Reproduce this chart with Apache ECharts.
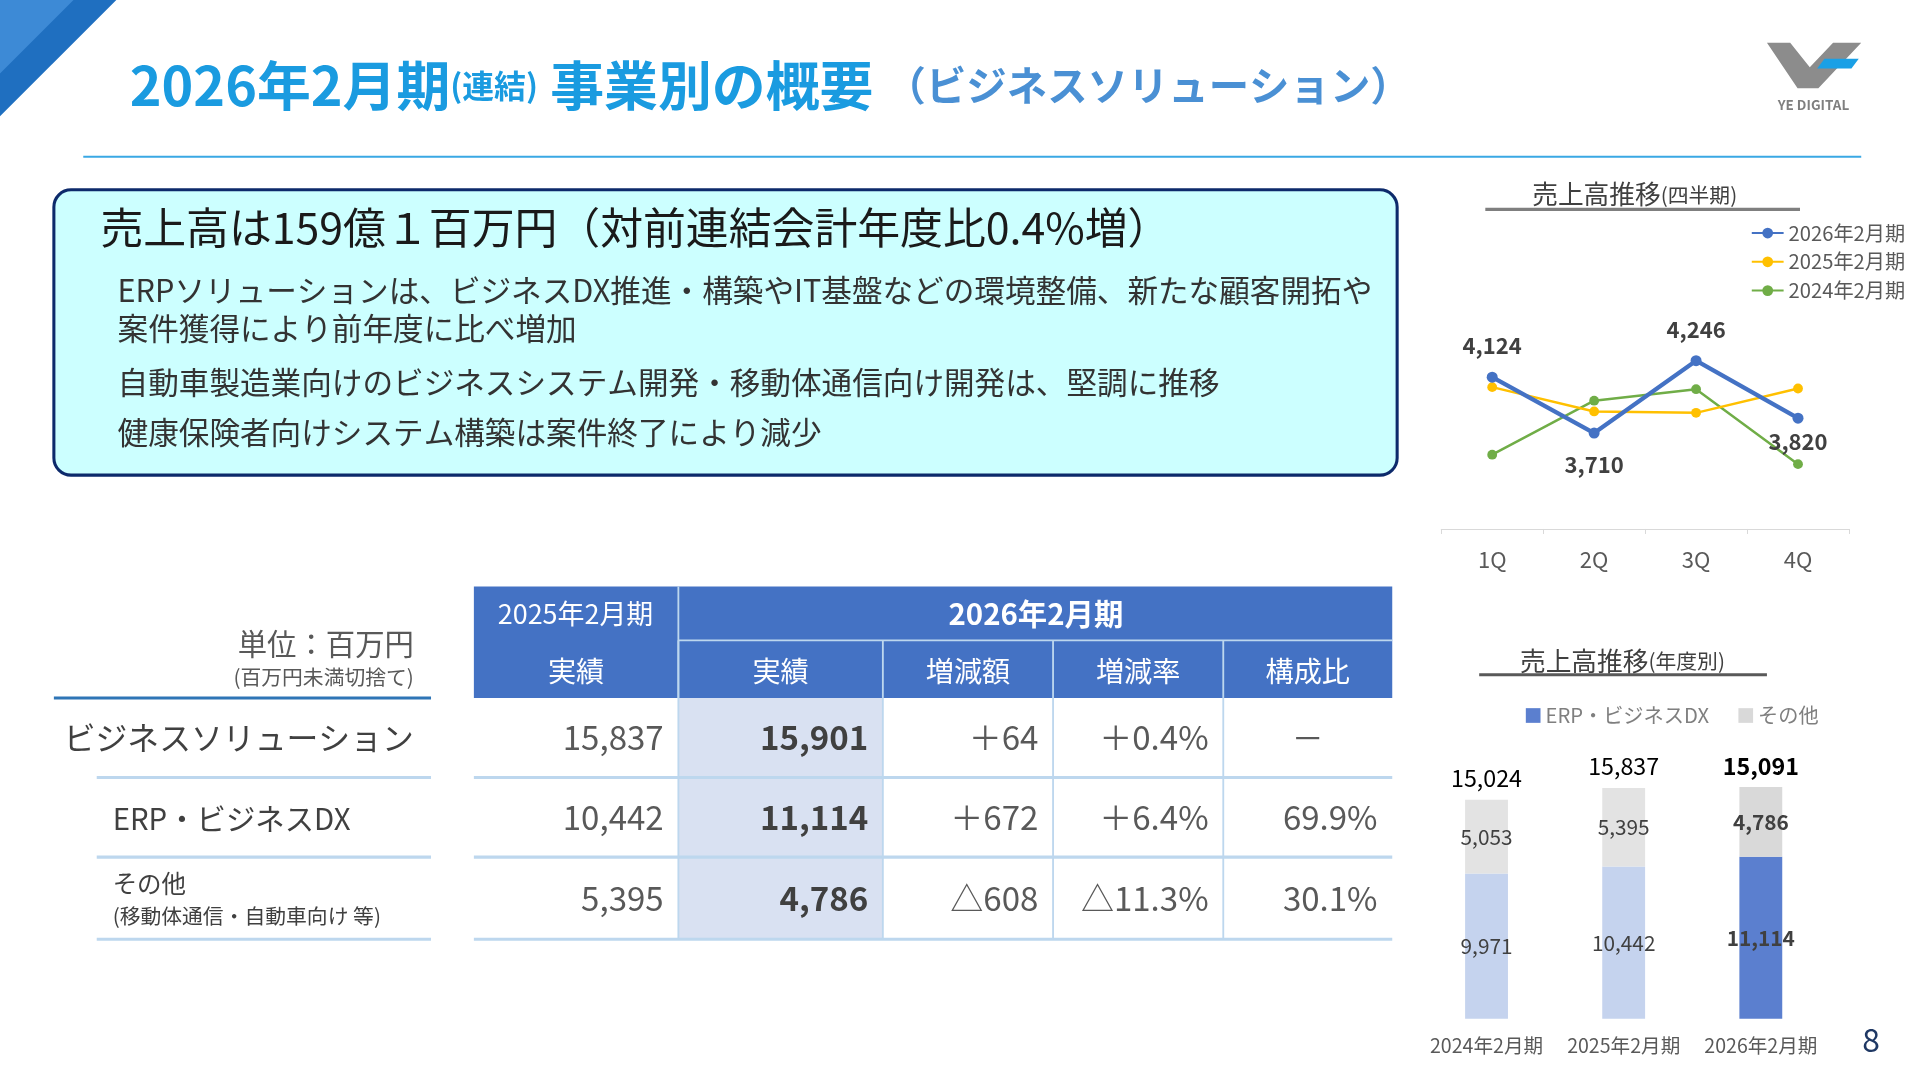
<!DOCTYPE html><html><head><meta charset="utf-8">
<script src="https://cdn.jsdelivr.net/npm/echarts@6/dist/echarts.min.js"></script>
<style>html,body{margin:0;background:#fff}#c{width:1920px;height:1080px}</style></head><body><div id="c"></div>
<script>
const quarters=['1Q','2Q','3Q','4Q'];
const q2026=[4124,3710,4246,3820];
const q2025=[4050,3870,3860,4040];
const q2024=[3550,3950,4035,3480];
const years=['2024年2月期','2025年2月期','2026年2月期'];
const erp=[9971,10442,11114];
const other=[5053,5395,4786];
const totals=[15024,15837,15091];
const tblHead=['実績','実績','増減額','増減率','構成比'];
const tblRows=[
 ['ビジネスソリューション','15,837','15,901','＋64','＋0.4%','－'],
 ['ERP・ビジネスDX','10,442','11,114','＋672','＋6.4%','69.9%'],
 ['その他','5,395','4,786','△608','△11.3%','30.1%']];
const S=1920/1568, F='"Noto Sans CJK JP","Noto Sans",sans-serif';
const p=v=>v*S;
const g=[];
function T(x,y,text,size,color,opt={}){g.push({type:'text',x:p(x),y:p(y),style:Object.assign({text,fill:color||'#404040',font:`${opt.w||'normal'} ${p(size)}px ${F}`,textAlign:opt.a||'left',textVerticalAlign:'middle'},opt.s||{}),z:10});}
function R(x,y,w,h,fill,opt={}){g.push({type:'rect',shape:{x:p(x),y:p(y),width:p(w),height:p(h),r:opt.r?p(opt.r):0},style:{fill,stroke:opt.st||null,lineWidth:opt.lw||0},z:opt.z||5});}
function L(x1,y1,x2,y2,c,w){g.push({type:'line',shape:{x1:p(x1),y1:p(y1),x2:p(x2),y2:p(y2)},style:{stroke:c,lineWidth:p(w)},z:8});}
g.push({type:'polygon',shape:{points:[[0,0],[p(95),0],[0,p(95)]]},style:{fill:'#1f6fc0'},z:5});
g.push({type:'polygon',shape:{points:[[0,0],[p(60),0],[0,p(60)]]},style:{fill:'#3d8ad6'},z:6});
g.push({type:'polygon',shape:{points:[[p(1443),p(35)],[p(1462),p(35)],[p(1478),p(55)],[p(1497),p(35)],[p(1520),p(35)],[p(1485),p(72)],[p(1468),p(72)]]},style:{fill:'#8c8c8c'},z:6});
g.push({type:'polygon',shape:{points:[[p(1490),p(48)],[p(1518),p(48)],[p(1512),p(56)],[p(1484),p(56)]]},style:{fill:'#1aa0e6'},z:7});
T(1481,86,'YE DIGITAL',11,'#7f7f7f',{a:'center',w:'bold'});
g.push({type:'text',x:p(106),y:p(70),style:{text:'{a|2026年2月期}{b|(連結)}{a| 事業別の概要 }{c|（ビジネスソリューション）}',textVerticalAlign:'middle',rich:{a:{fontSize:p(44),fontWeight:'bold',fill:'#1a9be0',fontFamily:F},b:{fontSize:p(26),fontWeight:'bold',fill:'#1a9be0',fontFamily:F},c:{fontSize:p(33),fontWeight:'bold',fill:'#4a90d4',fontFamily:F}}},z:10});
L(68,128,1520,128,'#3aa8e4',1.5);
R(44,155,1097,233,'#ccffff',{r:14,st:'#0d2a6b',lw:p(2.5)});
T(82,186,'売上高は159億１百万円（対前連結会計年度比0.4%増）',35,'#1a1a1a');
T(96,237,'ERPソリューションは、ビジネスDX推進・構築やIT基盤などの環境整備、新たな顧客開拓や',25,'#333');
T(96,268,'案件獲得により前年度に比べ増加',25,'#333');
T(96,312,'自動車製造業向けのビジネスシステム開発・移動体通信向け開発は、堅調に推移',25,'#333');
T(96,353,'健康保険者向けシステム構築は案件終了により減少',25,'#333');
const cx=[387,554,721,860,999,1137];
R(387,479,750,91,'#4472c4');
T(470,501,'2025年2月期',22,'#fff',{a:'center'});
T(846,501,'2026年2月期',24,'#fff',{a:'center',w:'bold'});
L(554,523,1137,523,'#bdd7ee',1.5);
for(let i=0;i<5;i++){T((cx[i]+cx[i+1])/2,548,tblHead[i],23,'#fff',{a:'center'}); if(i>0)L(cx[i],523,cx[i],570,'#bdd7ee',1.5);}
L(554,479,554,570,'#bdd7ee',1.5);
R(554,570,167,197,'#d9e1f2',{z:4});
const ry=[570,635,700,767];
for(let r=0;r<3;r++){
 const y=(ry[r]+ry[r+1])/2;
 for(let i=1;i<6;i++){
  const bold=i==2;
  if(i==5&&r==0) T(1068,y,tblRows[r][i],26,'#595959',{a:'center'});
  else T(cx[i]-12,y,tblRows[r][i],27,bold?'#404040':'#595959',{a:'right',w:bold?'bold':'normal'});
 }
 L(387,ry[r+1],1137,ry[r+1],'#bdd7ee',2.5);
 L(79,ry[r+1],352,ry[r+1],'#bdd7ee',2.5);
}
for(let i=1;i<5;i++)L(cx[i],570,cx[i],767,'#bdd7ee',1.5);
T(338,526,'単位：百万円',24,'#595959',{a:'right'});
T(338,553,'(百万円未満切捨て)',17,'#595959',{a:'right'});
L(44,570,352,570,'#2e75b6',2.5);
T(52,603,tblRows[0][0],26,'#404040');
T(92,669,tblRows[1][0],24,'#404040');
T(92,722,tblRows[2][0],20,'#404040');
T(92,748,'(移動体通信・自動車向け 等)',17,'#404040');
const rt={a:{fontSize:p(21),fontFamily:F,fill:'#404040'},b:{fontSize:p(17),fontFamily:F,fill:'#404040'}};
T(1335,159,'{a|売上高推移}{b|(四半期)}',0,'#404040',{a:'center',s:{rich:rt}});
L(1213,171,1470,171,'#7f7f7f',2.5);
T(1325,540,'{a|売上高推移}{b|(年度別)}',0,'#404040',{a:'center',s:{rich:rt}});
L(1208,551,1443,551,'#595959',2.5);
T(1528,849,'8',26,'#1f3864',{a:'center'});
const lab=(pos,off)=>({show:true,position:pos,offset:off||[0,0],color:'#404040',fontSize:p(18),fontWeight:'bold',fontFamily:F});
const chart=echarts.init(document.getElementById('c'));
chart.setOption({animation:false,graphic:g,
 legend:[{data:['2026年2月期','2025年2月期','2024年2月期'],orient:'vertical',right:p(8),top:p(178),itemGap:p(7),itemWidth:p(26),itemHeight:p(11),textStyle:{fontSize:p(16.5),color:'#595959',fontFamily:F}},
  {data:['ERP・ビジネスDX','その他'],left:p(1242),top:p(572),itemGap:p(24),itemWidth:p(12),itemHeight:p(12),icon:'rect',textStyle:{fontSize:p(16.5),color:'#7f7f7f',fontFamily:F}}],
 grid:[{left:p(1177),width:p(333),top:p(250),height:p(182)},{left:p(1158),width:p(336),top:p(594),height:p(238)}],
 xAxis:[{type:'category',data:quarters,gridIndex:0,axisLine:{lineStyle:{color:'#d9d9d9'}},axisTick:{show:true,lineStyle:{color:'#d9d9d9'}},axisLabel:{color:'#595959',fontSize:p(18),margin:p(16),fontFamily:F}},
  {type:'category',data:years,gridIndex:1,axisLine:{show:false},axisTick:{show:false},axisLabel:{interval:0,color:'#595959',fontSize:p(16),margin:p(14),fontFamily:F}}],
 yAxis:[{type:'value',gridIndex:0,min:3000,max:4650,show:false},{type:'value',gridIndex:1,min:0,max:20000,show:false}],
 series:[
  {name:'2024年2月期',type:'line',data:q2024,symbol:'circle',symbolSize:p(8),color:'#70ad47',lineStyle:{width:p(2)}},
  {name:'2025年2月期',type:'line',data:q2025,symbol:'circle',symbolSize:p(8),color:'#ffc000',lineStyle:{width:p(2)}},
  {name:'2026年2月期',type:'line',data:q2026.map((v,i)=>({value:v,label:lab(i%2?'bottom':'top',i==3?[0,-8]:[0,0])})),symbol:'circle',symbolSize:p(9),color:'#4472c4',lineStyle:{width:p(3.5)},z:5,label:{show:true,formatter:d=>d.value.toLocaleString('en-US'),distance:p(12)}},
  {name:'ERP・ビジネスDX',type:'bar',xAxisIndex:1,yAxisIndex:1,stack:'a',barWidth:p(35),color:'#5b7fcf',data:erp.map((v,i)=>({value:v,itemStyle:{color:i<2?'#c5d3ee':'#5b7fcf'},label:{show:true,color:'#404040',fontWeight:i==2?'bold':'normal',fontSize:p(17),fontFamily:F}})),label:{formatter:d=>d.value.toLocaleString('en-US')}},
  {name:'その他',type:'bar',xAxisIndex:1,yAxisIndex:1,stack:'a',color:'#d9d9d9',data:other.map((v,i)=>({value:v,itemStyle:{color:i<2?'#e3e3e3':'#d9d9d9'},label:{show:true,color:'#404040',fontWeight:i==2?'bold':'normal',fontSize:p(17),fontFamily:F}})),label:{formatter:d=>d.value.toLocaleString('en-US')}},
  {type:'bar',xAxisIndex:1,yAxisIndex:1,stack:'a',data:totals.map((v,i)=>({value:0,label:{show:true,position:'top',distance:p(8),formatter:v.toLocaleString('en-US'),color:'#000',fontSize:p(19),fontWeight:i==2?'bold':'normal',fontFamily:F}})),itemStyle:{color:'transparent'}}
 ]});
</script></body></html>
